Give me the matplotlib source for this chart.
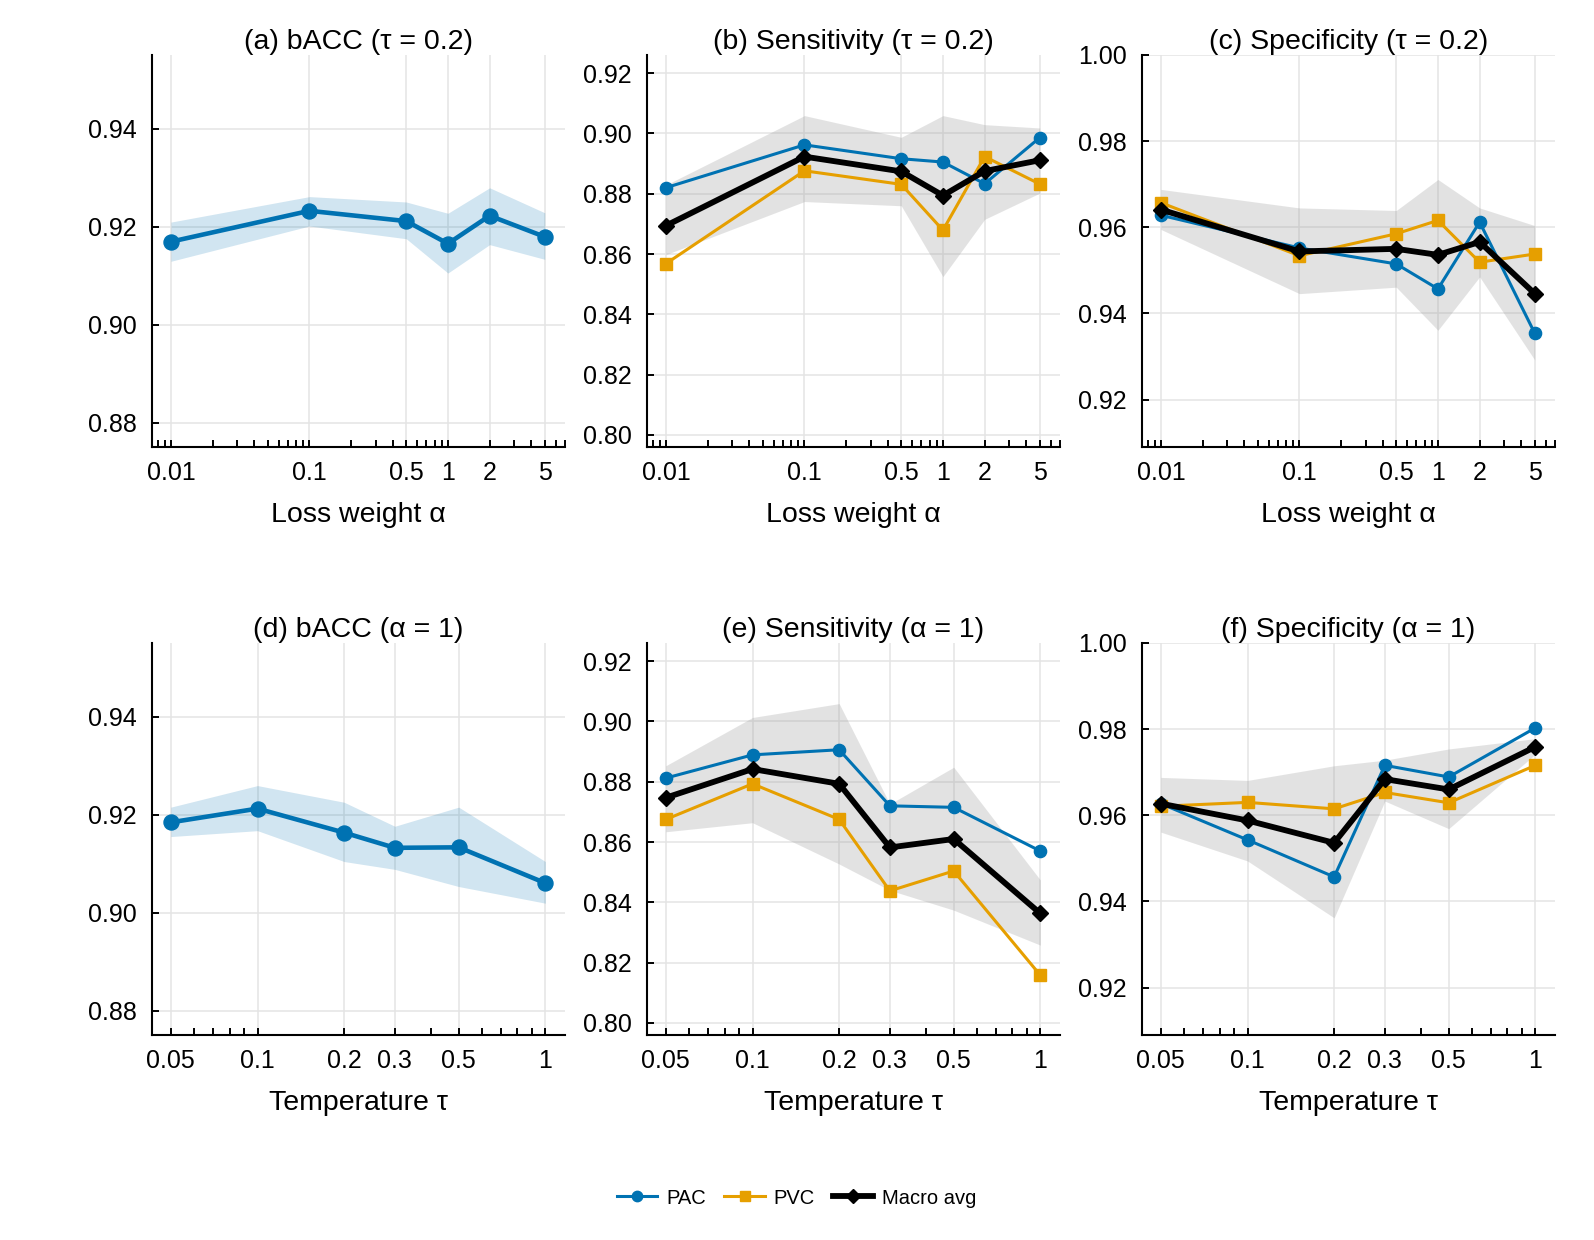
import matplotlib
matplotlib.use("Agg")
import matplotlib.pyplot as plt
from matplotlib.ticker import FixedLocator, FixedFormatter, LogLocator, NullFormatter
import numpy as np

plt.rcParams['font.family'] = ['Liberation Sans', 'DejaVu Sans']

# ---------------- data ----------------
alpha_vals = [0.01, 0.1, 0.5, 1, 2, 5]
alpha_labels = ['0.01', '0.1', '0.5', '1', '2', '5']
tau_vals = [0.05, 0.1, 0.2, 0.3, 0.5, 1]
tau_labels = ['0.05', '0.1', '0.2', '0.3', '0.5', '1']

# (a) bACC vs alpha (tau = 0.2)
a_bacc = [0.9169, 0.9232, 0.9211, 0.9165, 0.9222, 0.9179]
a_bacc_lo = [0.9129, 0.9201, 0.9175, 0.9105, 0.9163, 0.9133]
a_bacc_hi = [0.9209, 0.9261, 0.9250, 0.9227, 0.9279, 0.9228]

# (b) Sensitivity vs alpha
b_pac = [0.8820, 0.8962, 0.8916, 0.8905, 0.8833, 0.8986]
b_pvc = [0.8568, 0.8876, 0.8831, 0.8679, 0.8923, 0.8832]
b_mac = [0.8694, 0.8923, 0.8874, 0.8794, 0.8875, 0.8911]
b_lo = [0.8598, 0.8774, 0.8760, 0.8525, 0.8715, 0.8802]
b_hi = [0.8829, 0.9059, 0.8987, 0.9059, 0.9029, 0.9018]

# (c) Specificity vs alpha
c_pac = [0.9628, 0.9552, 0.9515, 0.9457, 0.9612, 0.9354]
c_pvc = [0.9657, 0.9534, 0.9585, 0.9616, 0.9519, 0.9538]
c_mac = [0.9641, 0.9544, 0.9550, 0.9536, 0.9566, 0.9446]
c_lo = [0.9595, 0.9446, 0.9461, 0.9361, 0.9485, 0.9292]
c_hi = [0.9688, 0.9645, 0.9639, 0.9711, 0.9645, 0.9604]

# (d) bACC vs tau (alpha = 1)
d_bacc = [0.9184, 0.9212, 0.9163, 0.9132, 0.9133, 0.9060]
d_bacc_lo = [0.9155, 0.9167, 0.9104, 0.9088, 0.9053, 0.9019]
d_bacc_hi = [0.9215, 0.9259, 0.9225, 0.9176, 0.9215, 0.9104]

# (e) Sensitivity vs tau
e_pac = [0.8812, 0.8889, 0.8906, 0.8720, 0.8715, 0.8570]
e_pvc = [0.8675, 0.8793, 0.8675, 0.8438, 0.8504, 0.8158]
e_mac = [0.8747, 0.8842, 0.8793, 0.8582, 0.8610, 0.8363]
e_lo = [0.8634, 0.8664, 0.8527, 0.8440, 0.8374, 0.8258]
e_hi = [0.8853, 0.9013, 0.9059, 0.8726, 0.8848, 0.8474]

# (f) Specificity vs tau
f_pac = [0.9627, 0.9543, 0.9457, 0.9716, 0.9689, 0.9803]
f_pvc = [0.9621, 0.9630, 0.9615, 0.9653, 0.9629, 0.9716]
f_mac = [0.9627, 0.9588, 0.9536, 0.9684, 0.9660, 0.9759]
f_lo = [0.9561, 0.9494, 0.9362, 0.9633, 0.9569, 0.9742]
f_hi = [0.9688, 0.9681, 0.9715, 0.9728, 0.9754, 0.9778]

titles = ['(a) bACC (τ = 0.2)', '(b) Sensitivity (τ = 0.2)', '(c) Specificity (τ = 0.2)',
          '(d) bACC (α = 1)', '(e) Sensitivity (α = 1)', '(f) Specificity (α = 1)']

BLUE = '#0072B2'
ORANGE = '#E69F00'
BLACK = '#000000'

# ---------------- figure ----------------
fig = plt.figure(figsize=(15.94, 12.4), dpi=100)
W, H = 1594.0, 1240.0
lefts = [152, 647, 1142]
aw = 413
tops = [55, 643]
ah = 392

axes = []
for r in range(2):
    for c in range(3):
        ax = fig.add_axes([lefts[c] / W, 1 - (tops[r] + ah) / H, aw / W, ah / H])
        axes.append(ax)


def style(ax, xt, xl, xlim, yt, ylim, title, xlabel):
    ax.set_xscale('log')
    ax.set_xlim(*xlim)
    ax.set_ylim(*ylim)
    ax.xaxis.set_major_locator(FixedLocator(xt))
    ax.xaxis.set_major_formatter(FixedFormatter(xl))
    ax.xaxis.set_minor_locator(LogLocator(base=10, subs=np.arange(2, 10), numticks=20))
    ax.xaxis.set_minor_formatter(NullFormatter())
    ax.set_yticks(yt)
    ax.set_yticklabels(['%.2f' % v for v in yt])
    for s in ['top', 'right']:
        ax.spines[s].set_visible(False)
    for s in ['left', 'bottom']:
        ax.spines[s].set_linewidth(1.5)
    ax.tick_params(axis='both', which='both', direction='in', width=1.4, labelsize=18)
    ax.tick_params(axis='both', which='major', length=5)
    ax.tick_params(axis='x', which='minor', length=5)
    ax.tick_params(axis='x', which='both', pad=10)
    ax.tick_params(axis='y', which='both', pad=11)
    ax.grid(True, which='major', color='#e4e4e4', linewidth=1.1, zorder=0)
    ax.set_axisbelow(True)
    ax.set_title(title, fontsize=20.5, pad=4)
    ax.set_xlabel(xlabel, fontsize=20.5, labelpad=12)


yt_b = [0.88, 0.90, 0.92, 0.94]
yt_s = [0.80, 0.82, 0.84, 0.86, 0.88, 0.90, 0.92]
yt_p = [0.92, 0.94, 0.96, 0.98, 1.00]
xlim_a = (0.0073, 7.0)
xlim_t = (0.043, 1.17)


def bacc(ax, x, y, lo, hi):
    ax.fill_between(x, lo, hi, color=BLUE, alpha=0.18, linewidth=0, zorder=1)
    ax.plot(x, y, color=BLUE, lw=3.3, marker='o', ms=10.8, zorder=3)


def multi(ax, x, pac, pvc, mac, lo, hi):
    ax.fill_between(x, lo, hi, color='#9a9a9a', alpha=0.28, linewidth=0, zorder=1)
    l1, = ax.plot(x, pac, color=BLUE, lw=2.2, marker='o', ms=8.8, zorder=3, label='PAC')
    l2, = ax.plot(x, pvc, color=ORANGE, lw=2.2, marker='s', ms=8.6, zorder=4, label='PVC')
    l3, = ax.plot(x, mac, color=BLACK, lw=4.2, marker='D', ms=8.6, zorder=5, label='Macro avg')
    return [l1, l2, l3]


bacc(axes[0], alpha_vals, a_bacc, a_bacc_lo, a_bacc_hi)
multi(axes[1], alpha_vals, b_pac, b_pvc, b_mac, b_lo, b_hi)
multi(axes[2], alpha_vals, c_pac, c_pvc, c_mac, c_lo, c_hi)
bacc(axes[3], tau_vals, d_bacc, d_bacc_lo, d_bacc_hi)
multi(axes[4], tau_vals, e_pac, e_pvc, e_mac, e_lo, e_hi)
handles = multi(axes[5], tau_vals, f_pac, f_pvc, f_mac, f_lo, f_hi)

style(axes[0], alpha_vals, alpha_labels, xlim_a, yt_b, (0.875, 0.955), titles[0], 'Loss weight α')
style(axes[1], alpha_vals, alpha_labels, xlim_a, yt_s, (0.796, 0.926), titles[1], 'Loss weight α')
style(axes[2], alpha_vals, alpha_labels, xlim_a, yt_p, (0.909, 1.0), titles[2], 'Loss weight α')
style(axes[3], tau_vals, tau_labels, xlim_t, yt_b, (0.875, 0.955), titles[3], 'Temperature τ')
style(axes[4], tau_vals, tau_labels, xlim_t, yt_s, (0.796, 0.926), titles[4], 'Temperature τ')
style(axes[5], tau_vals, tau_labels, xlim_t, yt_p, (0.909, 1.0), titles[5], 'Temperature τ')

fig.legend(handles=handles, labels=['PAC', 'PVC', 'Macro avg'], loc='center',
           bbox_to_anchor=(797 / W, 1 - 1198 / H), ncol=3, frameon=False,
           fontsize=14.5, handlelength=2.0, handletextpad=0.45, columnspacing=0.9,
           markerscale=0.85)

fig.savefig('out.png', dpi=100)
